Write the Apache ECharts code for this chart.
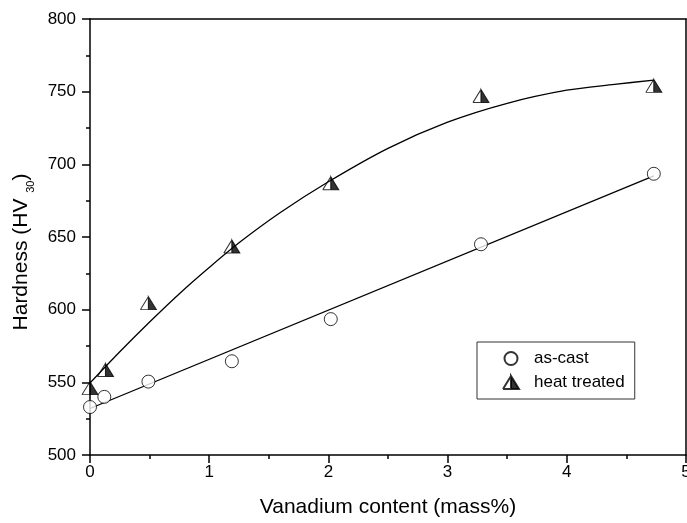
<!DOCTYPE html>
<html>
<head>
<meta charset="utf-8">
<script src="https://cdn.jsdelivr.net/npm/echarts@6/dist/echarts.min.js"></script>
<style>
  html, body { margin: 0; padding: 0; background: #fff; }
  #main { width: 687px; height: 523px; }
</style>
</head>
<body>
<div id="main"></div>
<script>
  // measured points
  var asCastX = [0, 0.12, 0.49, 1.19, 2.02, 3.28, 4.73];
  var asCastY = [533, 540, 550.5, 564.5, 593.5, 645, 693.5];
  var heatX = [0, 0.13, 0.49, 1.19, 2.02, 3.28, 4.73];
  var heatY = [546, 558.5, 604.5, 643.5, 687, 747, 754];

  // fitted lines
  var asCastFitX = [0, 4.73];
  var asCastFitY = [532, 692];
  var heatFitX = [0, 0.25, 0.5, 0.75, 1.0, 1.25, 1.6, 2.0, 2.5, 3.0, 3.5, 4.0, 4.4, 4.73];
  var heatFitY = [549.5, 571, 591.5, 611, 629, 646, 667, 688, 711, 729, 742, 751, 755, 758];

  function zip(xs, ys) {
    return xs.map(function (x, i) { return [x, ys[i]]; });
  }

  // half filled triangle: right half filled, left half outlined only
  var halfTri = 'path://M8,0 L16,13 L8,13 Z M8,0 L0,13 M0,13 L8,13';
  var font = 'Liberation Sans, Arial, sans-serif';

  var chart = echarts.init(document.getElementById('main'));
  var option = {
    animation: false,
    textStyle: { fontFamily: font, color: '#000' },
    grid: { left: 90, right: 1, top: 19, bottom: 68, outerBoundsMode: 'none', containLabel: false },
    legend: {
      data: ['as-cast', 'heat treated'],
      orient: 'vertical',
      left: 477,
      top: 342,
      itemWidth: 36,
      itemHeight: 13,
      itemGap: 7,
      padding: [8, 10, 8, 25],
      borderColor: '#333',
      borderWidth: 1,
      borderRadius: 0,
      textStyle: { fontSize: 17, color: '#000', fontFamily: font }
    },
    xAxis: [{
      type: 'value',
      min: 0, max: 5, interval: 1,
      name: 'Vanadium content (mass%)',
      nameLocation: 'middle',
      nameGap: 42,
      nameTextStyle: { fontSize: 21, color: '#000', fontFamily: font },
      axisLine: { onZero: false, lineStyle: { color: '#000', width: 1.5 } },
      axisTick: { length: 8, lineStyle: { color: '#000', width: 1.5 } },
      minorTick: { show: true, splitNumber: 2, length: 4, lineStyle: { color: '#000', width: 1.5 } },
      axisLabel: { fontSize: 17, color: '#000', margin: 9, fontFamily: font },
      splitLine: { show: false }
    }, {
      type: 'value', position: 'top',
      min: 0, max: 5, interval: 1,
      axisLine: { onZero: false, lineStyle: { color: '#000', width: 1.5 } },
      axisTick: { show: false },
      axisLabel: { show: false },
      splitLine: { show: false }
    }],
    yAxis: [{
      type: 'value',
      min: 500, max: 800, interval: 50,
      name: '{a|Hardness (HV }{s|30}{a|)}',
      nameLocation: 'middle',
      nameGap: 52,
      nameTextStyle: {
        fontFamily: font,
        padding: [0, 30, 0, 0],
        rich: {
          a: { fontSize: 21, color: '#000', fontFamily: font, lineHeight: 21, verticalAlign: 'top' },
          s: { fontSize: 11, color: '#000', fontFamily: font, lineHeight: 11, padding: [15, 0, 0, 0], verticalAlign: 'top' }
        }
      },
      axisLine: { onZero: false, lineStyle: { color: '#000', width: 1.5 } },
      axisTick: { length: 8, lineStyle: { color: '#000', width: 1.5 } },
      minorTick: { show: true, splitNumber: 2, length: 4, lineStyle: { color: '#000', width: 1.5 } },
      axisLabel: { fontSize: 17, color: '#000', margin: 14, fontFamily: font },
      splitLine: { show: false }
    }, {
      type: 'value', position: 'right',
      min: 500, max: 800, interval: 50,
      axisLine: { onZero: false, lineStyle: { color: '#000', width: 1.5 } },
      axisTick: { show: false },
      axisLabel: { show: false },
      splitLine: { show: false }
    }],
    series: [{
      name: 'as-cast fit',
      type: 'line',
      data: zip(asCastFitX, asCastFitY),
      showSymbol: false,
      lineStyle: { color: '#000', width: 1.3 },
      silent: true,
      z: 1
    }, {
      name: 'heat treated fit',
      type: 'line',
      data: zip(heatFitX, heatFitY),
      smooth: 0.3,
      showSymbol: false,
      lineStyle: { color: '#000', width: 1.3 },
      silent: true,
      z: 1
    }, {
      name: 'as-cast',
      type: 'scatter',
      data: zip(asCastX, asCastY),
      symbol: 'circle',
      symbolSize: 13,
      itemStyle: { color: '#fff', borderColor: '#000', borderWidth: 1 },
      z: 3
    }, {
      name: 'heat treated',
      type: 'scatter',
      data: zip(heatX, heatY),
      symbol: halfTri,
      symbolSize: [16, 13],
      itemStyle: { color: '#000', borderColor: '#000', borderWidth: 1 },
      z: 3
    }]
  };
  chart.setOption(option);
</script>
</body>
</html>
